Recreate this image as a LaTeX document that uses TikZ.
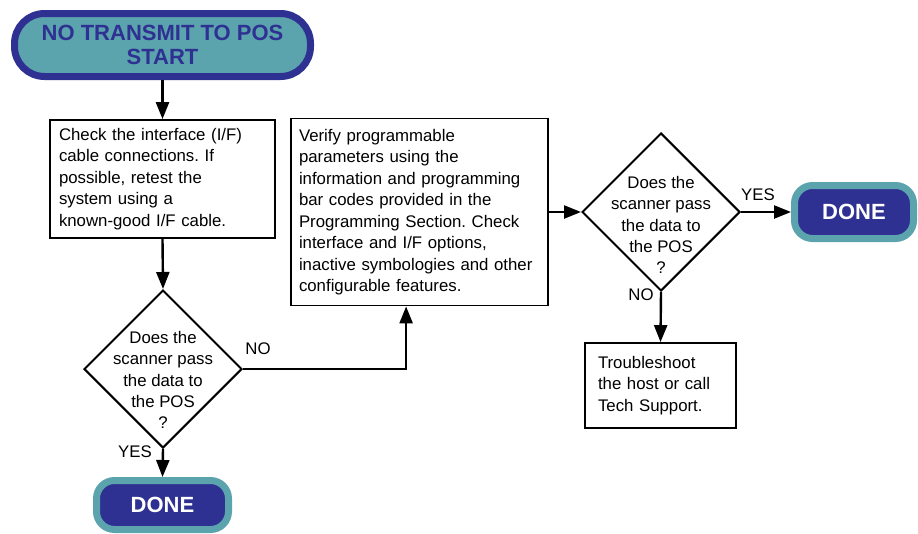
\documentclass[tikz,border=0pt]{standalone}
\usepackage{fontspec}
\setmainfont{Liberation Sans}
\usetikzlibrary{shapes.geometric,arrows.meta}
\definecolor{teal1}{HTML}{5BA3AD}
\definecolor{navy1}{HTML}{2E3192}
\frenchspacing
\tikzset{
  box/.style={draw, line width=1.8pt, rectangle, inner sep=0pt, align=left, font=\fontsize{16.8}{21.5}\selectfont},
  dia/.style={draw, line width=2pt, diamond, aspect=1, inner sep=0pt, minimum width=158pt, minimum height=158pt},
  dtext/.style={align=center, font=\fontsize{16.8}{21.2}\selectfont},
  lbl/.style={font=\fontsize{16.8}{20}\selectfont},
  arr/.style={line width=2.4pt, -{Triangle[length=17pt,width=13pt]}},
  startbox/.style={draw=navy1, fill=teal1, line width=7pt, rounded corners=30pt, text=navy1, align=center, inner sep=0pt, font=\fontsize{22}{24}\selectfont\bfseries},
  donebox/.style={draw=teal1, fill=navy1, line width=7pt, rounded corners=18pt, text=white, inner sep=0pt, font=\fontsize{22}{24}\selectfont\bfseries},
}
\begin{document}
\begin{tikzpicture}[x=1pt,y=-1pt]
\useasboundingbox (0,0) rectangle (918,533);
\node[startbox, minimum width=296pt, minimum height=63pt] (s) at (162.5,45) {NO TRANSMIT TO POS\\START};
\node[box, minimum width=225pt, minimum height=118pt, text width=207pt] (b1) at (162.5,179)
 {Check the interface (I/F)\\cable connections. If\\possible, retest the\\system using a\\known-good I/F cable.};
\node[dia] (d1) at (163,369) {};
\node[dtext] (t1) at (163,380) {Does the\\scanner pass\\the data to\\the POS\\?};
\node[donebox, minimum width=132pt, minimum height=49pt] (e1) at (162.5,505) {DONE};
\node[box, minimum width=257pt, minimum height=187pt, text width=241pt] (b2) at (419.5,212)
 {Verify programmable\\parameters using the\\information and programming\\bar codes provided in the\\Programming Section. Check\\interface and I/F options,\\inactive symbologies and other\\configurable features.};
\node[dia] (d2) at (661,212) {};
\node[dtext] (t2) at (661,225) {Does the\\scanner pass\\the data to\\the POS\\?};
\node[donebox, minimum width=119pt, minimum height=53pt] (e2) at (854,212) {DONE};
\node[box, minimum width=151pt, minimum height=85pt, text width=125pt] (b3) at (660.5,385.5)
 {Troubleshoot\\the host or call\\Tech Support.};
\draw[arr] (s.south) -- (b1.north);
\draw[arr] (b1.south) -- (d1.north);
\draw[arr] (d1.south) -- (e1.north);
\draw[arr] (d1.east) -| ([xshift=116pt]b2.south west);
\draw[arr] (b2.east) -- (d2.west);
\draw[arr] (d2.east) -- (e2.west);
\draw[arr] (d2.south) -- (b3.north);
\node[lbl] (no1) at (258,349) {NO};
\node[lbl] (yes1) at (135,452) {YES};
\node[lbl] (yes2) at (758,195) {YES};
\node[lbl] (no2) at (641,295) {NO};
\end{tikzpicture}
\end{document}
